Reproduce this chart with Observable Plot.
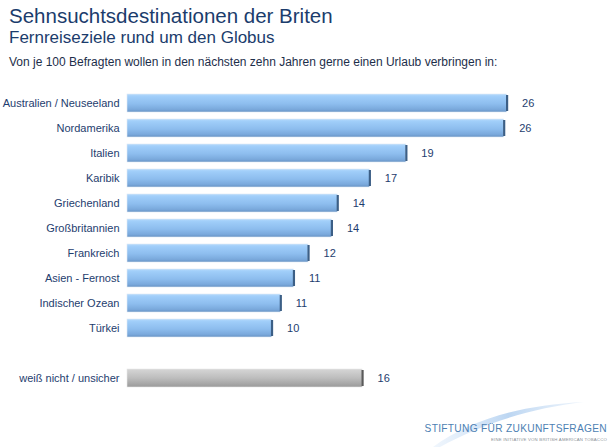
<!DOCTYPE html>
<html>
<head>
<meta charset="utf-8">
<script src="https://cdn.jsdelivr.net/npm/d3@7"></script>
<script src="https://cdn.jsdelivr.net/npm/@observablehq/plot@0.6"></script>
<style>
  html, body { margin: 0; padding: 0; background: #fff; }
  body { width: 610px; height: 447px; position: relative; overflow: hidden; font-family: "Liberation Sans", Arial, sans-serif; }
  .t { position: absolute; left: 9px; white-space: nowrap; line-height: 1; }
  #title { top: 5.7px; font-size: 20.5px; color: #1b3c6c; }
  #subtitle { top: 28.6px; font-size: 17px; color: #1b3c6c; }
  #note { top: 55.8px; font-size: 12px; color: #1d2e4a; }
  #chart { position: absolute; left: 0; top: 0; }
  #logo { position: absolute; left: 0; top: 0; }
</style>
</head>
<body>
<div id="chart"></div>
<div class="t" id="title">Sehnsuchtsdestinationen der Briten</div>
<div class="t" id="subtitle">Fernreiseziele rund um den Globus</div>
<div class="t" id="note">Von je 100 Befragten wollen in den nächsten zehn Jahren gerne einen Urlaub verbringen in:</div>
<svg id="logo" width="610" height="447" style="pointer-events:none">
  <defs>
    <linearGradient id="swoosh" x1="0" y1="0" x2="1" y2="0">
      <stop offset="0" stop-color="#e6f0fb" stop-opacity="0.6"/>
      <stop offset="0.5" stop-color="#bcd6f2"/>
      <stop offset="1" stop-color="#dbe9f8" stop-opacity="0.5"/>
    </linearGradient>
  </defs>
  <path d="M433,447 C470,420 520,405 584,402 C530,408 480,425 440,447 Z" fill="url(#swoosh)"/>
  <text x="607" y="432" text-anchor="end" font-family="Liberation Sans, Arial, sans-serif" font-size="10.2px" letter-spacing="0.3" fill="#4d7fb3">STIFTUNG FÜR ZUKUNFTSFRAGEN</text>
  <text x="607" y="440.5" text-anchor="end" font-family="Liberation Sans, Arial, sans-serif" font-size="4.3px" letter-spacing="0.2" fill="#8a8f96">EINE INITIATIVE VON BRITISH AMERICAN TOBACCO</text>
</svg>
<script>
const categories = ["Australien / Neuseeland", "Nordamerika", "Italien", "Karibik", "Griechenland", "Großbritannien", "Frankreich", "Asien - Fernost", "Indischer Ozean", "Türkei"];
const values = [26.0, 25.8, 19.1, 16.6, 14.4, 14.0, 12.4, 11.4, 10.5, 9.9];
const valueLabels = [26, 26, 19, 17, 14, 14, 12, 11, 11, 10];
const otherCategory = "weiß nicht / unsicher";
const otherValue = 16.1;
const otherLabel = 16;
const spacer = " ";

const dest = categories.map((c, i) => ({cat: c, value: values[i], label: valueLabels[i]}));
const other = [{cat: otherCategory, value: otherValue, label: otherLabel}];
const all = dest.concat(other);
const domain = categories.concat([spacer, otherCategory]);

const navy = "#1e3d6e";

const plot = Plot.plot({
  width: 610,
  height: 447,
  marginLeft: 127,
  marginRight: 45,
  marginTop: 87,
  marginBottom: 53,
  style: {fontFamily: "Liberation Sans, Arial, sans-serif", background: "transparent"},
  x: {domain: [0, 30], axis: null},
  y: {domain, padding: 0.28, align: 0.5, round: false, label: null},
  marks: [
    Plot.axisY({tickSize: 0, tickPadding: 8, fontSize: 11, fill: navy, label: null}),
    Plot.barX(dest, {x: d => d.value, y: "cat", fill: "url(#blueGrad)", stroke: "#dfe9f4", strokeWidth: 0.6}),
    Plot.barX(other, {x: d => d.value, y: "cat", fill: "url(#grayGrad)", stroke: "#e6e6e6", strokeWidth: 0.6}),
    Plot.tickX(dest, {x: d => d.value, y: "cat", stroke: "#3c5f86", strokeWidth: 2.2, insetTop: 1, insetBottom: 1}),
    Plot.tickX(other, {x: d => d.value, y: "cat", stroke: "#5a5a5a", strokeWidth: 2.2, insetTop: 1, insetBottom: 1}),
    Plot.text(all, {x: d => d.value, y: "cat", text: d => String(d.label), dx: 15, textAnchor: "start", fontSize: 11, fill: navy})
  ]
});

plot.insertAdjacentHTML("afterbegin", `
<defs>
  <linearGradient id="blueGrad" x1="0" y1="0" x2="0" y2="1">
    <stop offset="0" stop-color="#b3d9fc"/>
    <stop offset="0.15" stop-color="#9fcdf9"/>
    <stop offset="0.55" stop-color="#8dbdee"/>
    <stop offset="0.85" stop-color="#7aa9dc"/>
    <stop offset="1" stop-color="#6893c4"/>
  </linearGradient>
  <linearGradient id="grayGrad" x1="0" y1="0" x2="0" y2="1">
    <stop offset="0" stop-color="#d6d6d6"/>
    <stop offset="0.5" stop-color="#bdbdbd"/>
    <stop offset="1" stop-color="#9a9a9a"/>
  </linearGradient>
</defs>`);

document.getElementById("chart").appendChild(plot);
</script>
</body>
</html>
